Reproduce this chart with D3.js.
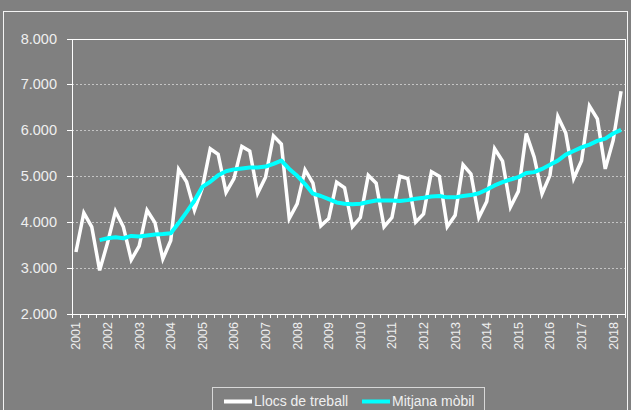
<!DOCTYPE html>
<html>
<head>
<meta charset="utf-8">
<script src="https://cdn.jsdelivr.net/npm/d3@7"></script>
<style>
  body { margin: 0; background: #808080; }
  svg { display: block; }
  text { font-family: "Liberation Sans", Arial, sans-serif; fill: #efefef; }
</style>
</head>
<body>
<div id="chart"></div>
<script>
// years and quarters on the x axis (2001T1 .. 2018T2)
var years = [2001, 2002, 2003, 2004, 2005, 2006, 2007, 2008, 2009,
             2010, 2011, 2012, 2013, 2014, 2015, 2016, 2017, 2018];
var quarters = ["T1", "T2", "T3", "T4"];
var yTicks = [2000, 3000, 4000, 5000, 6000, 7000, 8000];

// Llocs de treball, one value per quarter
var llocs = [
  3350, 4200, 3900, 2950,
  3550, 4240, 3900, 3180,
  3480, 4260, 3990, 3200,
  3600, 5150, 4880, 4260,
  4750, 5600, 5480, 4650,
  4950, 5650, 5550, 4630,
  4980, 5880, 5700, 4080,
  4400, 5140, 4850, 3920,
  4080, 4870, 4750, 3900,
  4100, 5020, 4850, 3900,
  4100, 5000, 4950, 4000,
  4180, 5100, 5000, 3900,
  4150, 5250, 5050, 4100,
  4450, 5600, 5330, 4330,
  4670, 5930, 5420, 4620,
  5020, 6300, 5940, 4950,
  5340, 6530, 6250, 5160,
  5780, 6850
];

// Mitjana mòbil, starts at 2001T4
var mitjana = [
  null, null, null, 3610,
  3650, 3670, 3650, 3700,
  3690, 3710, 3730, 3740,
  3760, 3980, 4220, 4470,
  4770, 4880, 5020, 5110,
  5150, 5170, 5190, 5190,
  5210, 5270, 5340, 5160,
  5010, 4830, 4620, 4570,
  4500, 4430, 4400, 4390,
  4400, 4440, 4470, 4470,
  4470, 4460, 4480, 4510,
  4530, 4560, 4570, 4540,
  4540, 4570, 4590, 4630,
  4710, 4800, 4870, 4930,
  4980, 5070, 5090, 5160,
  5250, 5340, 5470, 5550,
  5630, 5690, 5770, 5820,
  5930, 6010
];

var periods = [];
years.forEach(function (y) {
  quarters.forEach(function (q) { periods.push(y + q); });
});
periods = periods.slice(0, llocs.length);

var W = 631, H = 410;
var plotL = 72, plotR = 625, plotT = 38.5, plotB = 314;

var fmt = d3.formatLocale({ decimal: ",", thousands: ".", grouping: [3], currency: ["", ""] }).format(",d");

var svg = d3.select("#chart").append("svg")
  .attr("width", W).attr("height", H);

svg.append("rect")
  .attr("width", W).attr("height", H).attr("fill", "#808080");

// outer frame
svg.append("rect")
  .attr("x", 3.5).attr("y", 11.5)
  .attr("width", 624).attr("height", 430)
  .attr("fill", "none").attr("stroke", "#f4f4f4").attr("stroke-width", 1);

var x = d3.scaleBand().domain(periods).range([plotL, plotR]).padding(0);
var y = d3.scaleLinear().domain([2000, 8000]).range([plotB, plotT]);
var cx = function (p) { return x(p) + x.bandwidth() / 2; };

// gridlines
svg.append("g").selectAll("line")
  .data(yTicks.slice(1, -1))
  .enter().append("line")
  .attr("x1", plotL).attr("x2", plotR)
  .attr("y1", function (d) { return Math.round(y(d)) + 0.5; })
  .attr("y2", function (d) { return Math.round(y(d)) + 0.5; })
  .attr("stroke", "#c4c4c4").attr("stroke-dasharray", "2,2");

// plot frame
svg.append("rect")
  .attr("x", plotL + 0.5).attr("y", Math.round(plotT) + 0.5)
  .attr("width", plotR - plotL).attr("height", Math.round(plotB) - Math.round(plotT))
  .attr("fill", "none").attr("stroke", "#ffffff");

// y axis ticks + labels
var yg = svg.append("g");
yg.selectAll("line")
  .data(yTicks).enter().append("line")
  .attr("x1", plotL - 5).attr("x2", plotL)
  .attr("y1", function (d) { return Math.round(y(d)) + 0.5; })
  .attr("y2", function (d) { return Math.round(y(d)) + 0.5; })
  .attr("stroke", "#ffffff");
yg.selectAll("text")
  .data(yTicks).enter().append("text")
  .attr("x", 57).attr("y", function (d) { return y(d) + 5; })
  .attr("text-anchor", "end")
  .style("font-size", "14.5px")
  .text(fmt);

// x axis ticks at quarter boundaries
var xg = svg.append("g");
xg.selectAll("line")
  .data(periods.concat(["end"])).enter().append("line")
  .attr("x1", function (d) { return d === "end" ? plotR + 0.5 : Math.round(x(d)) + 0.5; })
  .attr("x2", function (d) { return d === "end" ? plotR + 0.5 : Math.round(x(d)) + 0.5; })
  .attr("y1", Math.round(plotB)).attr("y2", Math.round(plotB) + 4)
  .attr("stroke", "#ffffff");
xg.selectAll("text")
  .data(periods.filter(function (p) { return p.slice(4) === "T1"; }))
  .enter().append("text")
  .attr("transform", function (d) { return "translate(" + (cx(d) + 4.5) + "," + 322 + ") rotate(-90)"; })
  .attr("text-anchor", "end")
  .style("font-size", "12.5px")
  .text(function (d) { return d.slice(0, 4); });

// lines
var line = d3.line()
  .defined(function (d) { return d.v != null; })
  .x(function (d) { return cx(d.p); })
  .y(function (d) { return y(d.v); });

svg.append("path")
  .datum(periods.map(function (p, i) { return { p: p, v: llocs[i] }; }))
  .attr("d", line)
  .attr("fill", "none").attr("stroke", "#ffffff")
  .attr("stroke-width", 3.5).attr("stroke-linejoin", "miter");

svg.append("path")
  .datum(periods.map(function (p, i) { return { p: p, v: mitjana[i] }; }))
  .attr("d", line)
  .attr("fill", "none").attr("stroke", "#00ffff")
  .attr("stroke-width", 4).attr("stroke-linejoin", "round");

// legend
var lg = svg.append("g");
lg.append("rect")
  .attr("x", 212.5).attr("y", 387.5).attr("width", 272).attr("height", 40)
  .attr("fill", "none").attr("stroke", "#d8d8d8");
var items = [
  { name: "Llocs de treball", color: "#ffffff", x: 224 },
  { name: "Mitjana mòbil", color: "#00ffff", x: 362 }
];
items.forEach(function (it) {
  lg.append("line")
    .attr("x1", it.x).attr("x2", it.x + 28)
    .attr("y1", 401.5).attr("y2", 401.5)
    .attr("stroke", it.color).attr("stroke-width", 4);
  lg.append("text")
    .attr("x", it.x + 30).attr("y", 406)
    .style("font-size", "14px")
    .text(it.name);
});
</script>
</body>
</html>
